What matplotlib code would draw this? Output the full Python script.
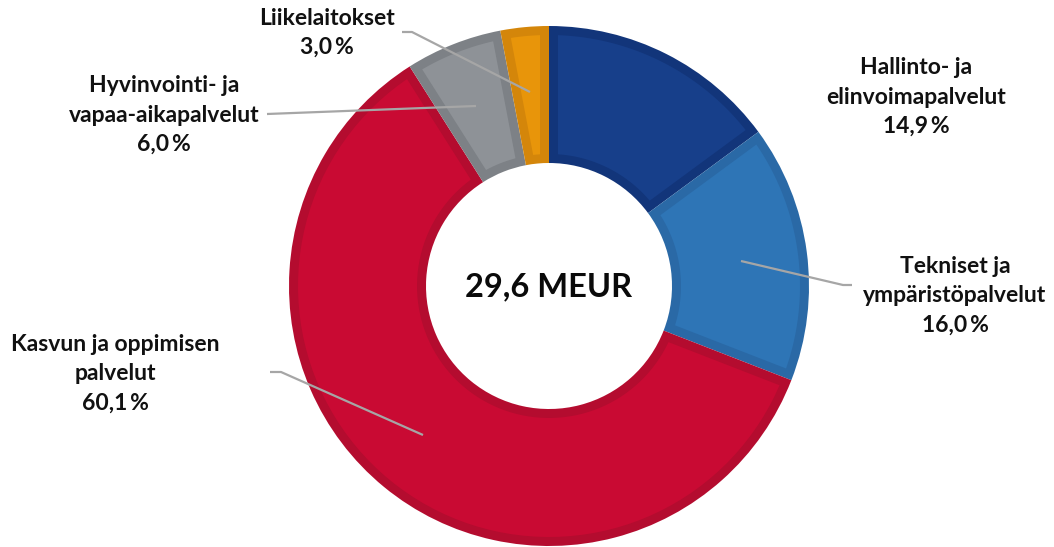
"""Donut chart: 29,6 MEUR split by service area."""
import matplotlib
matplotlib.use("Agg")
import matplotlib.pyplot as plt
from matplotlib.patches import Polygon
import numpy as np

plt.rcParams["font.family"] = ["Lato", "DejaVu Sans"]

# ── data ────────────────────────────────────────────────────────────────────
labels = [
    "Hallinto- ja\nelinvoimapalvelut",
    "Tekniset ja\nympäristöpalvelut",
    "Kasvun ja oppimisen\npalvelut",
    "Hyvinvointi- ja\nvapaa-aikapalvelut",
    "Liikelaitokset",
]
shares = [14.9, 16.0, 60.1, 6.0, 3.0]
total_text = "29,6 MEUR"

fills = ["#173F8A", "#2E75B6", "#C90A33", "#8E9297", "#E8950A"]
borders = ["#12357A", "#2A69A6", "#B40C2F", "#7D8186", "#D4860A"]

# label layout in pixel coords (x, y from top), leader line points
label_pos = [(916, 97), (955, 296), (115, 374), (164, 115), (327, 33)]
leaders = [
    None,
    [(741, 261), (843, 285), (852, 285)],
    [(423, 435), (281, 372), (270, 372)],
    [(476, 106), (267, 114)],
    [(530, 92), (412, 32), (402, 32)],
]

W, H = 1054, 547
CX, CY = 549, 286
R_OUT, R_IN = 260, 123
BORDER = 9

fig = plt.figure(figsize=(W / 100, H / 100), dpi=100)
ax = fig.add_axes([0, 0, 1, 1])

# outer layer: border colour, full wedge
wedges, _ = ax.pie(
    shares, colors=borders, startangle=90, counterclock=False,
    center=(CX, H - CY), radius=R_OUT, frame=True,
    wedgeprops=dict(width=R_OUT - R_IN, linewidth=0),
)

# inner layer: lighter fill, inset by BORDER px on every side
for w, fc in zip(wedges, fills):
    t1, t2 = np.radians(w.theta1), np.radians(w.theta2)
    r_o, r_i = R_OUT - BORDER, R_IN + BORDER
    d_o = np.arcsin(BORDER / r_o)
    d_i = np.arcsin(BORDER / r_i)
    th_o = np.linspace(t1 + d_o, t2 - d_o, 80)
    th_i = np.linspace(t2 - d_i, t1 + d_i, 80)
    xs = np.r_[CX + r_o * np.cos(th_o), CX + r_i * np.cos(th_i)]
    ys = np.r_[H - CY + r_o * np.sin(th_o), H - CY + r_i * np.sin(th_i)]
    ax.add_patch(Polygon(np.c_[xs, ys], closed=True, facecolor=fc,
                         edgecolor="none"))

ax.set_xlim(0, W)
ax.set_ylim(0, H)
ax.set_aspect("equal")
ax.axis("off")

for lab, share, (tx, ty), pts in zip(labels, shares, label_pos, leaders):
    txt = f"{lab}\n{share:.1f}".replace(".", ",") + "\u2009%"
    ax.text(tx, H - ty, txt, ha="center", va="center", fontsize=16.5,
            fontweight="bold", linespacing=1.48, color="#111111",
            family=["Lato", "DejaVu Sans"])
    if pts:
        xs = [p[0] for p in pts]
        ys = [H - p[1] for p in pts]
        ax.plot(xs, ys, color="#A6A6A6", lw=1.6, solid_capstyle="butt")

ax.text(CX, H - 287, total_text, ha="center", va="center", fontsize=23.5,
        fontweight="bold", color="#0a0a0a")

fig.savefig("out.png", dpi=100)
plt.close(fig)
